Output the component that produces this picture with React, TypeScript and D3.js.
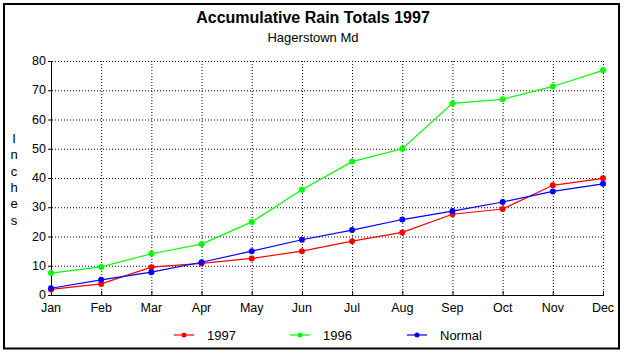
import React from "react";
import * as d3 from "d3";

const months = ["Jan","Feb","Mar","Apr","May","Jun","Jul","Aug","Sep","Oct","Nov","Dec"];
const rain1997 = [1.9, 3.8, 9.5, 10.8, 12.5, 15.0, 18.4, 21.4, 27.6, 29.4, 37.5, 39.9];
const rain1996 = [7.5, 9.6, 14.1, 17.4, 25.0, 36.0, 45.6, 50.0, 65.5, 66.9, 71.3, 76.8];
const rainNormal = [2.3, 5.2, 7.8, 11.2, 15.0, 18.9, 22.2, 25.8, 28.7, 31.8, 35.4, 38.0];
const yTicks = [0, 10, 20, 30, 40, 50, 60, 70, 80];
const seriesNames = ["1997", "1996", "Normal"];
const seriesColors = ["#ff0000", "#00ff00", "#0000ff"];
const yLabel = "Inches";

export default function App() {
  const W = 627, H = 354;
  const x = d3.scalePoint<string>().domain(months).range([51, 603]);
  const y = d3.scaleLinear().domain([0, 80]).range([295, 61]);
  const series = [rain1997, rain1996, rainNormal];
  const line = d3.line<number>().x((_, i) => x(months[i])!).y((d) => y(d));
  const font = "Arial, 'Liberation Sans', sans-serif";
  const legendX = [174, 290, 407];

  return (
    <svg width={W} height={H} style={{ position: "absolute", left: 0, top: 0, background: "#fff" }} fontFamily={font}>
      <rect x={0} y={0} width={W} height={H} fill="#fff" />
      <rect x={4} y={4} width={615} height={344.5} fill="none" stroke="#000" strokeWidth={2} />
      <text x={313} y={23} textAnchor="middle" fontSize={16} fontWeight="bold">Accumulative Rain Totals 1997</text>
      <text x={313} y={42} textAnchor="middle" fontSize={13}>Hagerstown Md</text>
      {yLabel.split("").map((c, i) => (
        <text key={i} x={14} y={143 + i * 16.3} textAnchor="middle" fontSize={13}>{c}</text>
      ))}
      {/* grid */}
      {yTicks.filter((t) => t > 0).map((t) => (
        <line key={"gy" + t} x1={52} x2={604} y1={y(t) + 0.5} y2={y(t) + 0.5} stroke="#000" strokeDasharray="1,2" />
      ))}
      {months.slice(1).map((m) => (
        <line key={"gx" + m} x1={x(m)! + 0.5} x2={x(m)! + 0.5} y1={61} y2={295} stroke="#000" strokeDasharray="1,2" />
      ))}
      {/* axes */}
      <line x1={51.5} x2={51.5} y1={61} y2={296} stroke="#000" />
      <line x1={51} x2={604} y1={295.5} y2={295.5} stroke="#000" />
      {yTicks.map((t) => (
        <g key={"yt" + t}>
          <line x1={48} x2={51} y1={y(t) + 0.5} y2={y(t) + 0.5} stroke="#000" />
          <text x={46} y={y(t) + 4} textAnchor="end" fontSize={12.5}>{t}</text>
        </g>
      ))}
      {months.map((m) => (
        <g key={"xt" + m}>
          <line x1={x(m)! + 0.5} x2={x(m)! + 0.5} y1={291} y2={295} stroke="#000" />
          <text x={x(m)!} y={312} textAnchor="middle" fontSize={12.5}>{m}</text>
        </g>
      ))}
      {/* series */}
      {series.map((s, si) => (
        <g key={"s" + si}>
          <path d={line(s)!} fill="none" stroke={seriesColors[si]} strokeWidth={1.2} />
          {s.map((v, i) => (
            <circle key={i} cx={x(months[i])!} cy={y(v)} r={3} fill={seriesColors[si]} />
          ))}
        </g>
      ))}
      {/* legend */}
      {seriesNames.map((n, i) => (
        <g key={"l" + n}>
          <line x1={legendX[i]} x2={legendX[i] + 20} y1={335} y2={335} stroke={seriesColors[i]} strokeWidth={1.2} />
          <circle cx={legendX[i] + 10} cy={335} r={2.5} fill={seriesColors[i]} />
          <text x={legendX[i] + 33} y={340} fontSize={13}>{n}</text>
        </g>
      ))}
    </svg>
  );
}
